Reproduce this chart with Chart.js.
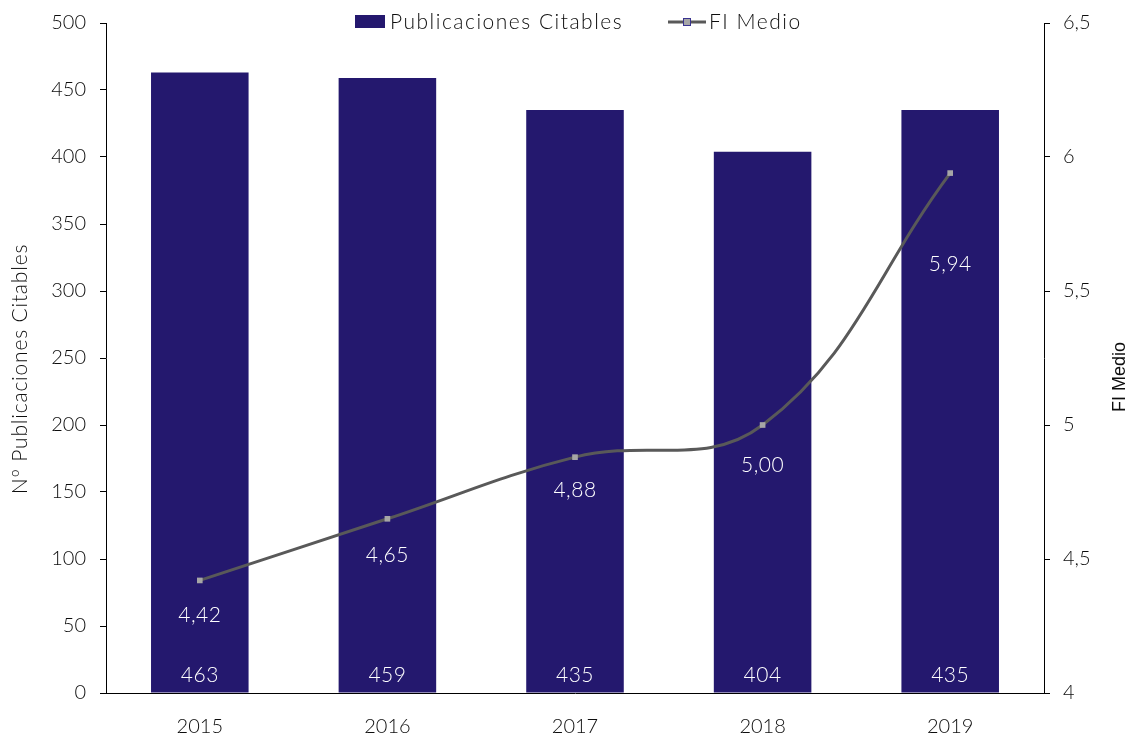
<!DOCTYPE html>
<html lang="es">
<head>
<meta charset="utf-8"/>
<title>Publicaciones Citables y FI Medio</title>
<script src="https://cdn.jsdelivr.net/npm/chart.js"></script>
<style>
  body{margin:0;background:#fff}
  #wrap{width:1134px;height:735px}
</style>
</head>
<body>
<div id="wrap"><canvas id="chart" width="1134" height="735"></canvas></div>
<script>
const years=['2015','2016','2017','2018','2019'];
const publicaciones=[463,459,435,404,435];
const fiMedio=[4.42,4.65,4.88,5.00,5.94];
const fiLabels=['4,42','4,65','4,88','5,00','5,94'];

const FONT='Lato, "Open Sans", sans-serif';
const BAR='#24186e';
const LINE='#595959';
const TXT='#0d0d0d';
const comma=v=>String(v).replace('.',',');

// extra distance (px) between each FI point and its label, as placed in the original
const fiLabelOffset=[35,36,33,40,91];

const extras={
  id:'extras',
  afterDatasetsDraw(chart){
    const ctx=chart.ctx,area=chart.chartArea;
    ctx.save();
    ctx.fillStyle='#fff';
    ctx.font='300 21px '+FONT;
    ctx.letterSpacing='0.5px';
    ctx.textAlign='center';ctx.textBaseline='middle';
    chart.getDatasetMeta(1).data.forEach((b,i)=>{
      ctx.fillText(String(publicaciones[i]),b.x,area.bottom-18);
    });
    chart.getDatasetMeta(0).data.forEach((p,i)=>{
      ctx.fillText(fiLabels[i],p.x,p.y+fiLabelOffset[i]);
    });
    ctx.restore();
  },
  afterDraw(chart){
    const ctx=chart.ctx;
    ctx.save();
    // legend
    ctx.fillStyle=BAR;
    ctx.fillRect(355,15,30,13);
    ctx.fillStyle=TXT;
    ctx.font='300 21px '+FONT;
    ctx.letterSpacing='1.5px';
    ctx.textBaseline='middle';ctx.textAlign='left';
    ctx.fillText('Publicaciones Citables',390,22);
    ctx.strokeStyle=LINE;ctx.lineWidth=3;
    ctx.beginPath();ctx.moveTo(668,22);ctx.lineTo(706,22);ctx.stroke();
    ctx.fillStyle='#a6a6a6';ctx.fillRect(683,18,8,8);
    ctx.strokeStyle='#3a3490';ctx.lineWidth=1;ctx.strokeRect(683.5,18.5,7,7);
    ctx.fillStyle=TXT;
    ctx.fillText('FI Medio',709,22);
    // axis titles
    ctx.textAlign='center';
    ctx.save();
    ctx.translate(20,369);ctx.rotate(-Math.PI/2);
    ctx.letterSpacing='0.8px';
    ctx.fillText('Nº Publicaciones Citables',0,0);
    ctx.restore();
    ctx.save();
    ctx.translate(1120,377);ctx.rotate(-Math.PI/2);
    ctx.letterSpacing='0px';
    ctx.font='18px "Liberation Sans", Arial, sans-serif';
    ctx.fillText('FI Medio',0,0);
    ctx.restore();
    ctx.restore();
  }
};

const tickFont={family:FONT,size:20,weight:300};

new Chart(document.getElementById('chart'),{
  data:{
    labels:years,
    datasets:[
      {
        type:'line',
        label:'FI Medio',
        data:fiMedio,
        yAxisID:'y1',
        borderColor:LINE,
        borderWidth:3,
        tension:0.4,
        pointStyle:'rect',
        pointRadius:4,
        pointBackgroundColor:'#a6a6a6',
        pointBorderWidth:0,
        order:0
      },
      {
        type:'bar',
        label:'Publicaciones Citables',
        data:publicaciones,
        yAxisID:'y',
        backgroundColor:BAR,
        categoryPercentage:1,
        barPercentage:0.52,
        order:1
      }
    ]
  },
  options:{
    responsive:false,
    animation:false,
    layout:{padding:{top:23,left:0,right:0,bottom:0}},
    plugins:{legend:{display:false},tooltip:{enabled:false}},
    scales:{
      x:{
        grid:{display:false},
        border:{display:true,color:'#000',width:1},
        ticks:{color:TXT,font:tickFont,padding:14},
        afterFit(s){s.height=42;}
      },
      y:{
        position:'left',
        min:0,max:500,
        ticks:{stepSize:50,color:TXT,font:tickFont,padding:14},
        grid:{drawOnChartArea:false,drawTicks:true,tickLength:6,color:'#000'},
        border:{display:true,color:'#000',width:1},
        afterFit(s){s.width=106;s.paddingTop=0;}
      },
      y1:{
        position:'right',
        min:4,max:6.5,
        ticks:{stepSize:0.5,color:TXT,font:tickFont,padding:13,callback:v=>comma(v)},
        grid:{drawOnChartArea:false,drawTicks:true,tickLength:6,color:'#000'},
        border:{display:true,color:'#000',width:1},
        afterFit(s){s.width=90;s.paddingTop=0;}
      }
    }
  },
  plugins:[extras]
});
</script>
</body>
</html>
